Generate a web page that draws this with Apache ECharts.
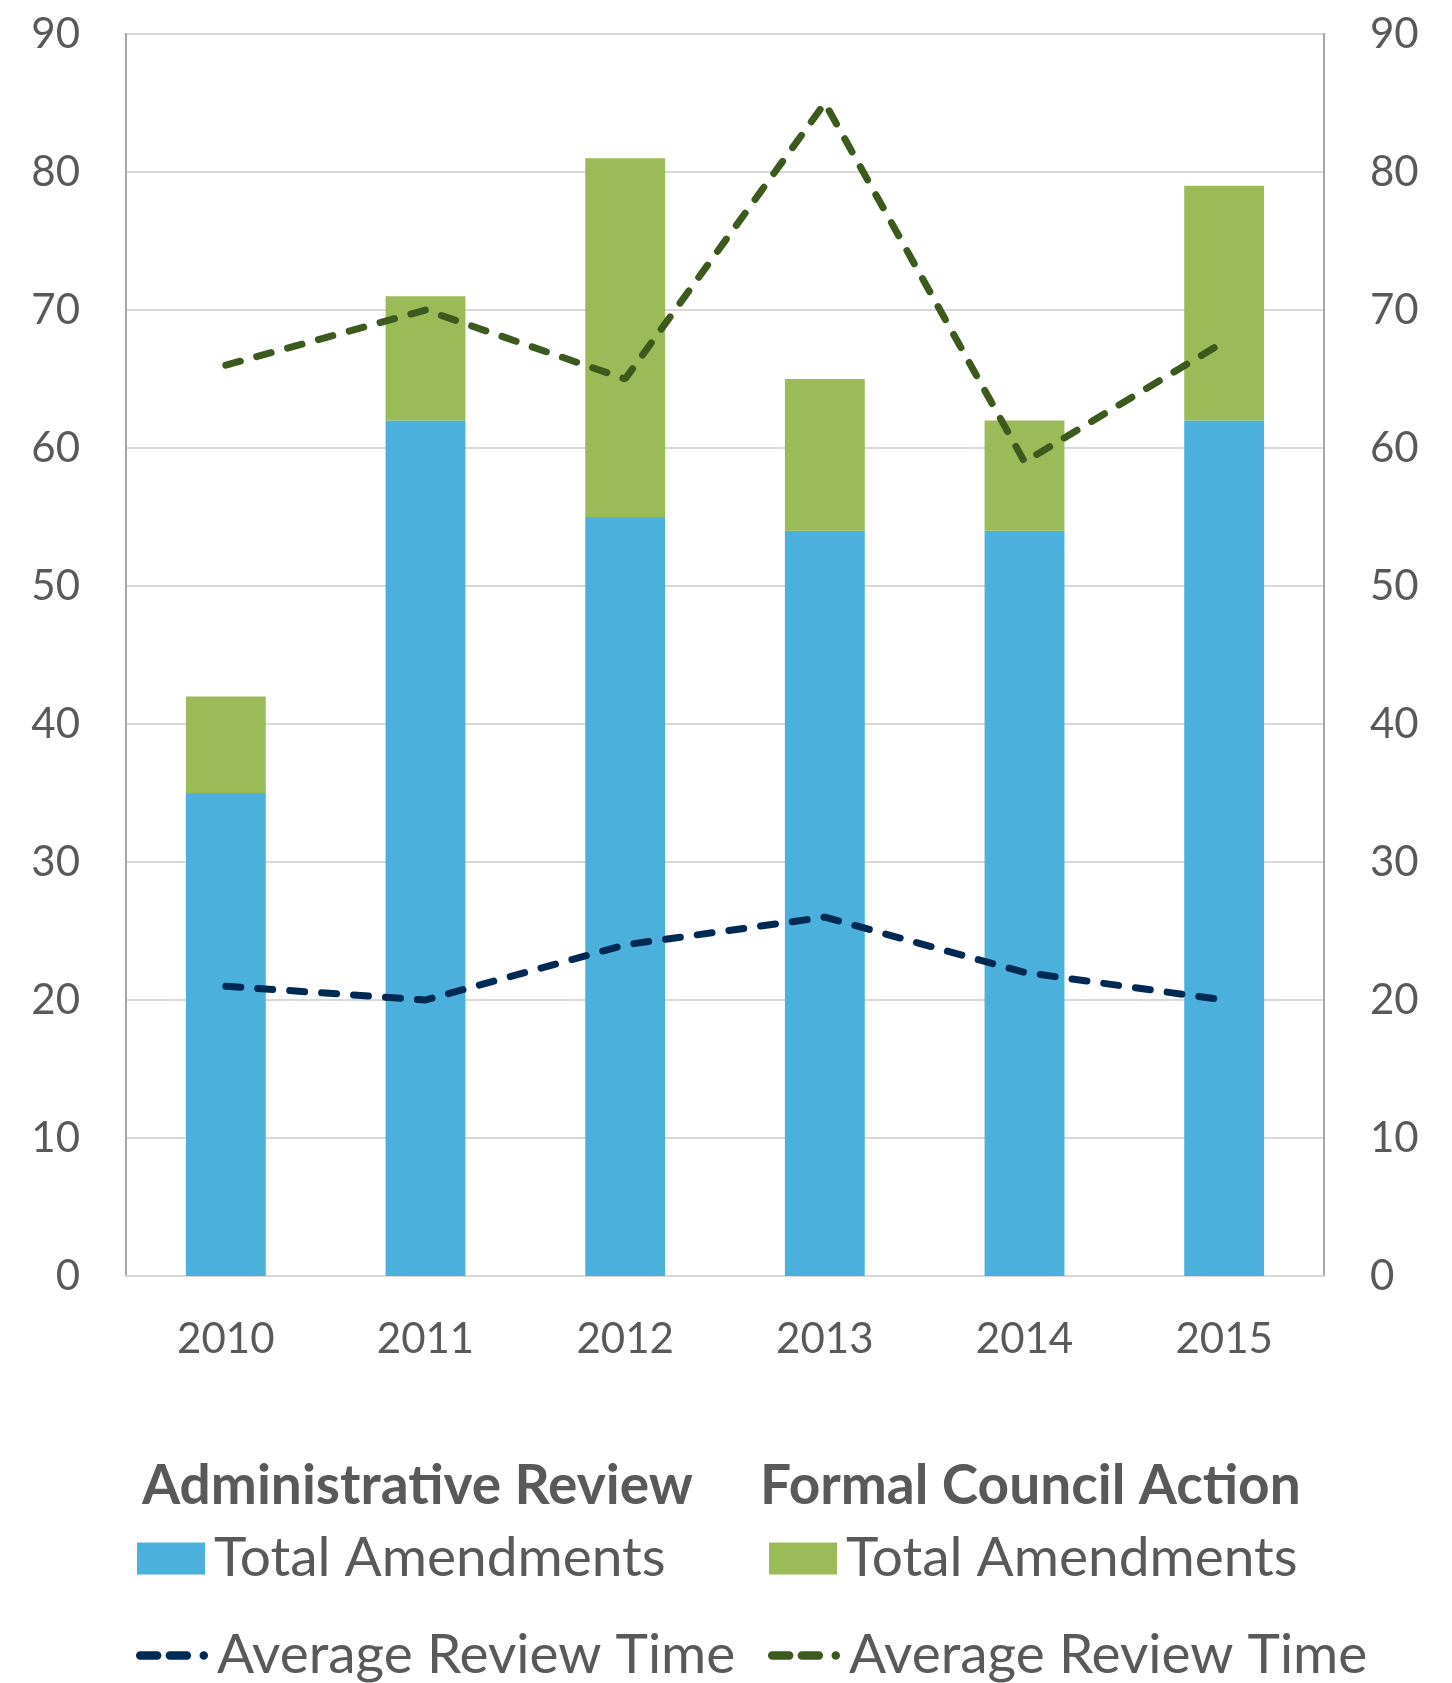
<!DOCTYPE html>
<html>
<head>
<meta charset="utf-8">
<script src="https://cdn.jsdelivr.net/npm/echarts@6/dist/echarts.min.js"></script>
<style>
  html, body { margin: 0; padding: 0; background: #fff; }
  #chart { width: 1452px; height: 1683px; }
</style>
</head>
<body>
<div id="chart"></div>
<script>
const years = ['2010', '2011', '2012', '2013', '2014', '2015']
const adminAmendments = [35, 62, 55, 54, 54, 62]
const councilAmendments = [7, 9, 26, 11, 8, 17] // stacked on top of admin
const adminReviewTime = [21, 20, 24, 26, 22, 20]
const councilReviewTime = [66, 70, 65, 85, 59, 67.7]

const labels = {
  adminTotal: 'Total Amendments',
  councilTotal: 'Total Amendments',
  adminTime: 'Average Review Time',
  councilTime: 'Average Review Time'
}

const fontFamily = 'Lato'
const textColor = '#595959'
// dash - dash - dot, like the legend key of the reference
const dashIcon = 'path://M4,0h16a4,4 0 0 1 0,8h-16a4,4 0 0 1 0,-8z' +
  'M32,0h16a4,4 0 0 1 0,8h-16a4,4 0 0 1 0,-8z' +
  'M64,0a4,4 0 0 1 0,8a4,4 0 0 1 0,-8z'

const chart = echarts.init(document.getElementById('chart'))

const legendBase = {
  orient: 'horizontal',
  padding: 0,
  itemGap: 0,
  selectedMode: false,
  formatter: name => labels[name],
  textStyle: { fontFamily, fontSize: 55, color: textColor, padding: [0, 0, 0, 4] }
}

const yAxisBase = {
  type: 'value',
  min: 0,
  max: 90,
  interval: 10,
  axisLine: { show: true, lineStyle: { color: '#a6a6a6', width: 2 } },
  axisTick: { show: false },
  axisLabel: { fontFamily, fontSize: 42, color: textColor, margin: 46 }
}

chart.setOption({
  animation: false,
  grid: {
    left: 126,
    right: 128,
    top: 34,
    bottom: 407,
    show: true,
    borderColor: '#a6a6a6',
    borderWidth: 2
  },
  graphic: [
    {
      type: 'text', left: 142, top: 1459,
      style: { text: 'Administrative Review', fontFamily, fontWeight: 'bold', fontSize: 55, fill: textColor }
    },
    {
      type: 'text', left: 760, top: 1459,
      style: { text: 'Formal Council Action', fontFamily, fontWeight: 'bold', fontSize: 55, fill: textColor }
    }
  ],
  legend: [
    Object.assign({}, legendBase, { left: 137, top: 1531, itemWidth: 68, itemHeight: 32, icon: 'rect', data: ['adminTotal'] }),
    Object.assign({}, legendBase, { left: 769, top: 1531, itemWidth: 68, itemHeight: 32, icon: 'rect', data: ['councilTotal'] }),
    Object.assign({}, legendBase, { left: 136, top: 1628, itemWidth: 72, itemHeight: 9, icon: dashIcon, data: ['adminTime'] }),
    Object.assign({}, legendBase, { left: 768, top: 1628, itemWidth: 72, itemHeight: 9, icon: dashIcon, data: ['councilTime'] })
  ],
  xAxis: {
    type: 'category',
    data: years,
    axisLine: { lineStyle: { color: '#d9d9d9', width: 2 } },
    axisTick: { show: false },
    axisLabel: { fontFamily, fontSize: 42, color: textColor, margin: 42 }
  },
  yAxis: [
    Object.assign({}, yAxisBase, {
      splitLine: { lineStyle: { color: '#d9d9d9', width: 2 } }
    }),
    Object.assign({}, yAxisBase, {
      position: 'right',
      splitLine: { show: false }
    })
  ],
  series: [
    {
      name: 'adminTotal',
      type: 'bar',
      stack: 'amend',
      barWidth: '40%',
      itemStyle: { color: '#4bb0dc' },
      data: adminAmendments
    },
    {
      name: 'councilTotal',
      type: 'bar',
      stack: 'amend',
      barWidth: '40%',
      itemStyle: { color: '#9bbb59' },
      data: councilAmendments
    },
    {
      name: 'adminTime',
      type: 'line',
      yAxisIndex: 1,
      symbol: 'none',
      lineStyle: { color: '#002a54', width: 7, type: [15, 17], cap: 'round' },
      itemStyle: { color: '#002a54' },
      data: adminReviewTime
    },
    {
      name: 'councilTime',
      type: 'line',
      yAxisIndex: 1,
      symbol: 'none',
      lineStyle: { color: '#3d5a1e', width: 7, type: [15, 17], cap: 'round' },
      itemStyle: { color: '#3d5a1e' },
      data: councilReviewTime
    }
  ]
})
</script>
</body>
</html>
